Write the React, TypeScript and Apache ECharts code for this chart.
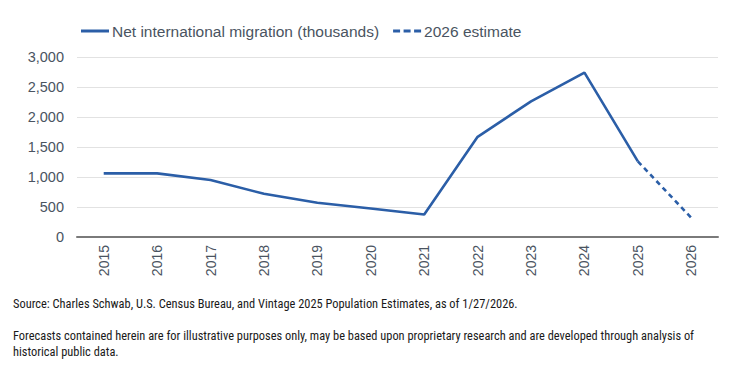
import React, { useEffect, useRef } from "react";
import * as echarts from "echarts";

const years = ["2015", "2016", "2017", "2018", "2019", "2020", "2021", "2022", "2023", "2024", "2025", "2026"];
const migration = [1060, 1060, 950, 720, 570, 475, 376, 1670, 2260, 2740, 1260, null];
const estimate = [null, null, null, null, null, null, null, null, null, null, 1260, 320];
const yTicks = { min: 0, max: 3000, interval: 500 };

const sourceNote = "Source: Charles Schwab, U.S. Census Bureau, and Vintage 2025 Population Estimates, as of 1/27/2026.";
const forecastNote1 = "Forecasts contained herein are for illustrative purposes only, may be based upon proprietary research and are developed through analysis of";
const forecastNote2 = "historical public data.";

const LINE = "#2b5ea7";
const TEXT = "#4a5461";

// Legend icons: a solid bar and a three-dash bar, drawn as paths
const SOLID_ICON = "path://M0,0H28V3H0Z";
const DASH_ICON = "path://M0,0H7V3H0Z M10.5,0H17.5V3H10.5Z M21,0H28V3H21Z";

export default function App() {
  const ref = useRef<HTMLDivElement>(null);

  useEffect(() => {
    if (!ref.current) return;
    const chart = echarts.init(ref.current, null, { renderer: "svg" });
    const noteStyle = {
      fill: "#1a1a1a",
      fontSize: 12.4,
      fontFamily: "'Liberation Sans Narrow', 'Roboto Condensed', Roboto, sans-serif",
    };
    chart.setOption({
      animation: false,
      backgroundColor: "#ffffff",
      textStyle: { fontFamily: "'Liberation Sans', Arial, sans-serif" },
      grid: { left: 77, right: 19, top: 57, bottom: 149, containLabel: false },
      legend: {
        left: 76,
        top: 18,
        itemWidth: 28,
        itemHeight: 3,
        itemGap: 14,
        textStyle: { color: TEXT, fontSize: 15.5, padding: [0, 0, 0, -2] },
        data: [
          { name: "Net international migration (thousands)", icon: SOLID_ICON, itemStyle: { color: LINE } },
          { name: "2026 estimate", icon: DASH_ICON, itemStyle: { color: LINE } },
        ],
      },
      xAxis: {
        type: "category",
        data: years,
        boundaryGap: true,
        axisLine: { lineStyle: { color: "#7a7a7a", width: 2 } },
        axisTick: { show: false },
        axisLabel: { rotate: 90, color: TEXT, fontSize: 14, margin: 8 },
      },
      yAxis: {
        type: "value",
        min: yTicks.min,
        max: yTicks.max,
        interval: yTicks.interval,
        axisLine: { show: false },
        axisTick: { show: false },
        splitLine: { lineStyle: { color: "#e2e2e2", width: 1 } },
        axisLabel: {
          color: TEXT,
          fontSize: 14.5,
          margin: 13,
          formatter: (v: number) => v.toLocaleString("en-US"),
        },
      },
      series: [
        {
          name: "Net international migration (thousands)",
          type: "line",
          data: migration,
          symbol: "none",
          lineStyle: { color: LINE, width: 2.6 },
          itemStyle: { color: LINE },
        },
        {
          name: "2026 estimate",
          type: "line",
          data: estimate,
          symbol: "none",
          lineStyle: { color: LINE, width: 2.6, type: [5, 4] },
          itemStyle: { color: LINE },
        },
      ],
      graphic: [
        { type: "text", left: 13, top: 297, style: { ...noteStyle, text: sourceNote } },
        { type: "text", left: 13, top: 329, style: { ...noteStyle, text: forecastNote1 } },
        { type: "text", left: 13, top: 345, style: { ...noteStyle, text: forecastNote2 } },
      ],
    });
    return () => chart.dispose();
  }, []);

  return (
    <div
      ref={ref}
      style={{ position: "fixed", left: 0, top: 0, width: 737, height: 386, background: "#fff" }}
    />
  );
}
